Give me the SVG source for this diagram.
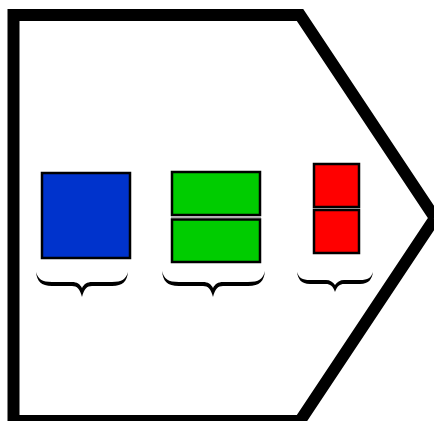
<svg xmlns="http://www.w3.org/2000/svg" width="434" height="421" viewBox="0 0 434 421">
<style>
.frame{fill:#fff;stroke:#000;stroke-width:12;stroke-linejoin:miter}
.box{stroke:#000;stroke-width:2.5}
.blue{fill:#0033cc}
.green{fill:#00cc00}
.red{fill:#ff0000}
.brace{fill:#000}
</style>
<rect width="434" height="421" fill="#fff"/>
<g id="frame"><polygon class="frame" points="13.5,15 300,15 435,218 300,421 13.5,421"/></g>
<g id="blue">
<rect class="box blue" x="42" y="173" width="88" height="85"/>
<path class="brace" d="M36,272 C37,281 41,286 52,286 L72,286 C77,286 80,289 82,297 C84,289 87,286 92,286 L112,286 C123,286 127,281 128,272 C126,279 122,282 112,282 L92,282 C87,282 84,284 82,288 C80,284 77,282 72,282 L52,282 C42,282 38,279 36,272 Z"/>
</g>
<g id="green">
<rect class="box green" x="172" y="172" width="88" height="43"/>
<line x1="171" y1="217.3" x2="261" y2="217.3" stroke="#999" stroke-width="1"/>
<rect class="box green" x="172" y="219.5" width="88" height="42.5"/>
<path class="brace" d="M162,271 C163,281 167,286 179,286 L203,286 C208,286 211,289 213,297 C215,289 218,286 223,286 L248,286 C260,286 264,281 265,271 C263,279 259,282 248,282 L223,282 C218,282 215,284 213,288 C211,284 208,282 203,282 L179,282 C168,282 164,279 162,271 Z"/>
</g>
<g id="red">
<rect class="box red" x="314" y="164" width="45" height="43"/>
<rect class="box red" x="314" y="210" width="45" height="43"/>
<path class="brace" d="M297,272 C298,279 301,284 310,284 L326,284 C330,284 333,286 335,292 C337,286 340,284 344,284 L360,284 C369,284 372,279 373,272 C371,278 368,280 360,280 L344,280 C340,280 337,282 335,285 C333,282 330,280 326,280 L310,280 C302,280 299,278 297,272 Z"/>
</g>
<g id="connectors"/>
</svg>
